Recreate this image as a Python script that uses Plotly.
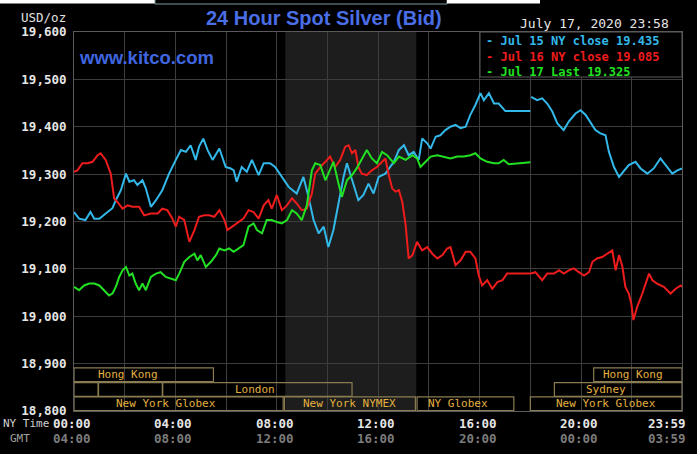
import plotly.graph_objects as go

# minutes after midnight, NY time
jul15_t = [0, 12, 27, 39, 48, 60, 75, 91, 99, 111, 123, 131, 142, 150, 162, 170, 182, 194, 209, 225,
           241, 253, 265, 276, 288, 296, 306, 316, 328, 344, 359, 371, 378, 385, 397, 409, 421, 437, 449, 464,
           476, 492, 508, 527, 543, 555, 567, 579, 591, 602, 614, 626, 638, 646, 658, 673, 685, 697, 709, 721,
           737, 757, 769, 781, 792, 804, 816, 824, 836, 844, 856, 867, 879, 891, 903, 915, 927, 938, 950, 962,
           970, 982, 994, 1005, 1021, 1080, 1081, 1082, 1096, 1108, 1120, 1132, 1144, 1159, 1171, 1187, 1199, 1211, 1223, 1234,
           1246, 1258, 1266, 1278, 1290, 1301, 1313, 1329, 1341, 1357, 1372, 1388, 1400, 1416, 1428, 1439]
jul15_v = [19.220, 19.206, 19.203, 19.220, 19.206, 19.206, 19.217, 19.228, 19.245, 19.266, 19.301, 19.284, 19.287, 19.277, 19.287, 19.270, 19.231, 19.245, 19.266, 19.301,
           19.330, 19.351, 19.347, 19.361, 19.330, 19.358, 19.375, 19.351, 19.330, 19.354, 19.315, 19.312, 19.308, 19.284, 19.315, 19.305, 19.330, 19.298, 19.323, 19.323,
           19.315, 19.294, 19.273, 19.259, 19.294, 19.252, 19.203, 19.175, 19.189, 19.146, 19.182, 19.238, 19.294, 19.323, 19.287, 19.245, 19.256, 19.280, 19.259, 19.294,
           19.301, 19.326, 19.351, 19.361, 19.340, 19.347, 19.330, 19.375, 19.365, 19.354, 19.379, 19.382, 19.393, 19.400, 19.404, 19.397, 19.400, 19.425, 19.446, 19.471,
           19.456, 19.471, 19.449, 19.449, 19.433, 19.433, None, 19.463, 19.456, 19.460, 19.449, 19.432, 19.407, 19.393, 19.411, 19.428, 19.435, 19.425, 19.407, 19.393,
           19.386, 19.382, 19.347, 19.315, 19.294, 19.305, 19.319, 19.326, 19.312, 19.301, 19.312, 19.333, 19.319, 19.301, 19.308, 19.312]

jul16_t = [0, 8, 20, 32, 44, 56, 63, 75, 87, 95, 103, 115, 127, 138, 154, 166, 182, 198, 209, 221,
           233, 241, 249, 261, 273, 285, 296, 308, 320, 332, 344, 356, 363, 374, 389, 401, 413, 425, 437, 449,
           460, 468, 480, 492, 504, 516, 527, 539, 551, 563, 571, 583, 595, 606, 618, 630, 642, 650, 658, 666,
           673, 681, 693, 705, 717, 729, 737, 745, 753, 761, 769, 777, 785, 792, 801, 812, 824, 836, 848, 860,
           872, 883, 891, 903, 915, 927, 938, 950, 958, 966, 978, 990, 1002, 1014, 1025, 1041, 1080, 1092, 1108, 1120,
           1136, 1148, 1159, 1171, 1183, 1195, 1207, 1219, 1227, 1238, 1250, 1262, 1274, 1282, 1290, 1298, 1305, 1313, 1319, 1324,
           1333, 1345, 1353, 1361, 1369, 1380, 1396, 1412, 1424, 1436, 1439]
jul16_v = [19.305, 19.308, 19.323, 19.323, 19.326, 19.340, 19.344, 19.330, 19.301, 19.249, 19.241, 19.227, 19.234, 19.231, 19.231, 19.213, 19.217, 19.217, 19.227, 19.224,
           19.206, 19.189, 19.210, 19.203, 19.157, 19.182, 19.210, 19.213, 19.213, 19.210, 19.224, 19.203, 19.182, 19.189, 19.199, 19.206, 19.224, 19.220, 19.206, 19.234,
           19.245, 19.227, 19.256, 19.224, 19.234, 19.249, 19.238, 19.224, 19.227, 19.259, 19.301, 19.315, 19.326, 19.337, 19.315, 19.330, 19.358, 19.361, 19.344, 19.351,
           19.315, 19.301, 19.298, 19.308, 19.315, 19.326, 19.333, 19.298, 19.270, 19.263, 19.266, 19.241, 19.192, 19.122, 19.129, 19.157, 19.139, 19.146, 19.132, 19.122,
           19.129, 19.143, 19.146, 19.108, 19.118, 19.136, 19.136, 19.122, 19.086, 19.065, 19.076, 19.058, 19.072, 19.076, 19.090, 19.090, 19.090, 19.093, 19.076, 19.090,
           19.090, 19.097, 19.090, 19.097, 19.101, 19.093, 19.086, 19.093, 19.115, 19.122, 19.125, 19.132, 19.139, 19.097, 19.129, 19.104, 19.062, 19.048, 19.027, 18.992,
           19.020, 19.048, 19.069, 19.090, 19.076, 19.069, 19.062, 19.048, 19.058, 19.065, 19.062]

jul17_t = [0, 12, 24, 36, 48, 60, 71, 83, 91, 99, 107, 115, 123, 131, 138, 146, 154, 162, 170, 182,
           194, 205, 217, 229, 241, 249, 261, 273, 285, 292, 300, 312, 324, 336, 344, 356, 367, 378, 389, 401,
           413, 425, 433, 445, 456, 468, 480, 492, 504, 516, 527, 539, 551, 563, 571, 583, 595, 606, 614, 626,
           634, 646, 658, 669, 681, 693, 705, 717, 729, 741, 757, 769, 785, 801, 812, 820, 832, 844, 860, 875,
           891, 907, 923, 938, 950, 962, 978, 994, 1005, 1017, 1029, 1080]
jul17_v = [19.062, 19.055, 19.065, 19.069, 19.069, 19.065, 19.055, 19.044, 19.048, 19.062, 19.083, 19.097, 19.104, 19.086, 19.090, 19.069, 19.055, 19.069, 19.055, 19.083,
           19.090, 19.093, 19.083, 19.079, 19.076, 19.090, 19.115, 19.125, 19.132, 19.118, 19.129, 19.104, 19.115, 19.129, 19.143, 19.139, 19.143, 19.136, 19.143, 19.150,
           19.189, 19.196, 19.182, 19.175, 19.203, 19.203, 19.199, 19.196, 19.203, 19.224, 19.217, 19.203, 19.234, 19.308, 19.323, 19.319, 19.287, 19.312, 19.326, 19.280,
           19.252, 19.287, 19.298, 19.312, 19.330, 19.351, 19.333, 19.323, 19.347, 19.340, 19.323, 19.337, 19.330, 19.340, 19.333, 19.315, 19.326, 19.337, 19.340, 19.337,
           19.333, 19.337, 19.337, 19.340, 19.344, 19.333, 19.326, 19.323, 19.323, 19.330, 19.321, 19.325]

legend_text = ["- Jul 15 NY close 19.435", "- Jul 16 NY close 19.085", "- Jul 17 Last 19.325"]
colors = ["#33b8ea", "#ee1c1c", "#22e022"]

y_ticks = [18.8, 18.9, 19.0, 19.1, 19.2, 19.3, 19.4, 19.5, 19.6]
y_labels = ["18,800", "18,900", "19,000", "19,100", "19,200", "19,300", "19,400", "19,500", "19,600"]

time_pos = [0, 240, 480, 720, 960, 1200, 1439]
ny_labels = ["00:00", "04:00", "08:00", "12:00", "16:00", "20:00", "23:59"]
gmt_labels = ["04:00", "08:00", "12:00", "16:00", "20:00", "00:00", "03:59"]

# market sessions: name, start, end (minutes), row (1 = top), label position
sess_name = ["Hong Kong", "", "", "London", "New York Globex", "New York NYMEX", "NY Globex", "Hong Kong", "Sydney", "New York Globex"]
sess_start = [0, 0, 58, 210, 0, 498, 812, 1230, 1137, 1080]
sess_end = [330, 57, 209, 658, 495, 808, 1041, 1439, 1439, 1439]
sess_row = [1, 2, 2, 2, 3, 3, 3, 1, 2, 3]
sess_label_t = [128, 0, 0, 428, 218, 653, 909, 1323, 1259, 1259]

nymex_start, nymex_end = 500, 810

mono = "DejaVu Sans Mono"

fig = go.Figure()
for t, v, c, n in [(jul15_t, jul15_v, colors[0], "Jul 15"), (jul16_t, jul16_v, colors[1], "Jul 16"), (jul17_t, jul17_v, colors[2], "Jul 17")]:
    fig.add_trace(go.Scatter(x=t, y=v, mode="lines", name=n, line=dict(color=c, width=2), connectgaps=False))

shapes = []
# NYMEX trading hours shading
shapes.append(dict(type="rect", xref="x", yref="paper", x0=nymex_start, x1=nymex_end, y0=0, y1=1,
                   fillcolor="#1c1d1c", line=dict(width=0), layer="below"))

row_y = {1: (18.862, 18.891), 2: (18.831, 18.860), 3: (18.801, 18.830)}
annotations = []
for name, s, e, r, lt in zip(sess_name, sess_start, sess_end, sess_row, sess_label_t):
    y0, y1 = row_y[r]
    shapes.append(dict(type="rect", xref="x", yref="y", x0=s, x1=e, y0=y0, y1=y1,
                       line=dict(color="#8a7c52", width=1.2), fillcolor="rgba(0,0,0,0)", layer="above"))
    if name:
        annotations.append(dict(x=lt, y=(y0 + y1) / 2, xref="x", yref="y", text=name, showarrow=False,
                                font=dict(family=mono, size=11, color="#e4b040"), xanchor="center", yanchor="middle",
                                borderpad=0))

# legend box
shapes.append(dict(type="rect", xref="paper", yref="paper", x0=(480 - 74) / 608, x1=1, y0=(411 - 77) / 379, y1=1,
                   fillcolor="#000000", line=dict(color="#5a5a5a", width=1), layer="above"))
annotations.append(dict(x=(485 - 74) / 608, y=(411 - 56) / 379, xref="paper", yref="paper",
                        text="<br>".join('<span style="color:%s">%s</span>' % (c, t) for t, c in zip(legend_text, colors)),
                        showarrow=False, xanchor="left", yanchor="middle", align="left", borderpad=0,
                        font=dict(family=mono, size=12, color=colors[0], weight="bold")))

# page strip at the top
shapes.append(dict(type="rect", xref="paper", yref="paper", x0=-74 / 608, x1=(155 - 74) / 608,
                   y0=(411 - 3.5) / 379, y1=411 / 379, fillcolor="#ffffff", line=dict(width=0)))
shapes.append(dict(type="rect", xref="paper", yref="paper", x0=(155 - 74) / 608, x1=(447 - 74) / 608,
                   y0=(411 - 4) / 379, y1=(411 + 2) / 379, fillcolor="rgba(0,0,0,0)",
                   line=dict(color="#7d9a9a", width=1)))
shapes.append(dict(type="rect", xref="paper", yref="paper", x0=(447 - 74) / 608, x1=(540 - 74) / 608,
                   y0=(411 - 3.5) / 379, y1=411 / 379, fillcolor="#ffffff", line=dict(width=0)))

# time labels
for i, (p, a, b) in enumerate(zip(time_pos, ny_labels, gmt_labels)):
    xa = "center"
    xs = -2
    if i == len(time_pos) - 1:
        xa = "right"
        xs = 5
    annotations.append(dict(x=p, y=(411 - 423) / 379, xref="x", yref="paper", text="<b>" + a + "</b>",
                            showarrow=False, xanchor=xa, xshift=xs, yanchor="middle", borderpad=0,
                            font=dict(family=mono, size=12.5, color="#e6e6e6")))
    annotations.append(dict(x=p, y=(411 - 438) / 379, xref="x", yref="paper", text="<b>" + b + "</b>",
                            showarrow=False, xanchor=xa, xshift=xs, yanchor="middle", borderpad=0,
                            font=dict(family=mono, size=12.5, color="#7c7c7c")))
annotations.append(dict(x=(50 - 74) / 608, y=(411 - 423) / 379, xref="paper", yref="paper", text="NY Time",
                        showarrow=False, xanchor="right", yanchor="middle", borderpad=0,
                        font=dict(family=mono, size=11, color="#d0d0d0")))
annotations.append(dict(x=(31 - 74) / 608, y=(411 - 438) / 379, xref="paper", yref="paper", text="GMT",
                        showarrow=False, xanchor="right", yanchor="middle", borderpad=0,
                        font=dict(family=mono, size=11, color="#a0a0a0")))

annotations.append(dict(x=(68 - 74) / 608, y=(411 - 17) / 379, xref="paper", yref="paper", text="USD/oz",
                        showarrow=False, xanchor="right", yanchor="middle",
                        font=dict(family=mono, size=12.5, color="#e0e0e0")))
annotations.append(dict(x=(324 - 74) / 608, y=(411 - 18) / 379, xref="paper", yref="paper",
                        text="<b>24 Hour Spot Silver (Bid)</b>", showarrow=False, xanchor="center", yanchor="middle",
                        font=dict(family="Liberation Sans", size=20, color="#4a6ee6")))
annotations.append(dict(x=(77 - 74) / 608, y=(411 - 57) / 379, xref="paper", yref="paper",
                        text="<b>www.kitco.com</b>", showarrow=False, xanchor="left", yanchor="middle",
                        font=dict(family="Liberation Sans", size=18.5, color="#3f66e0")))
annotations.append(dict(x=(671 - 74) / 608, y=(411 - 24) / 379, xref="paper", yref="paper",
                        text="July 17, 2020 23:58", showarrow=False, xanchor="right", yanchor="middle",
                        font=dict(family=mono, size=13, color="#e6e6e6")))

fig.update_layout(
    width=697, height=454,
    margin=dict(l=74, r=15, t=32, b=43),
    paper_bgcolor="#000000", plot_bgcolor="#000000",
    showlegend=False,
    shapes=shapes, annotations=annotations,
    xaxis=dict(range=[0, 1439], tick0=0, dtick=120, showticklabels=False, showgrid=True,
               gridcolor="#3d3d3d", gridwidth=1, zeroline=False, showline=True, linecolor="#5a5a5a",
               mirror=True, ticks=""),
    yaxis=dict(range=[18.8, 19.6], tickvals=y_ticks, ticktext=y_labels, showgrid=True,
               gridcolor="#3d3d3d", gridwidth=1, zeroline=False, showline=True, linecolor="#5a5a5a",
               mirror=True, ticks="", ticklabelstandoff=4,
               tickfont=dict(family=mono, size=12.5, color="#e6e6e6", weight="bold")),
)

# page has a default 8px body margin; drop it so the figure sits at the window corner
fig.write_html("out.html", config={"displayModeBar": False},
               post_script="document.body.style.margin='0px';")
